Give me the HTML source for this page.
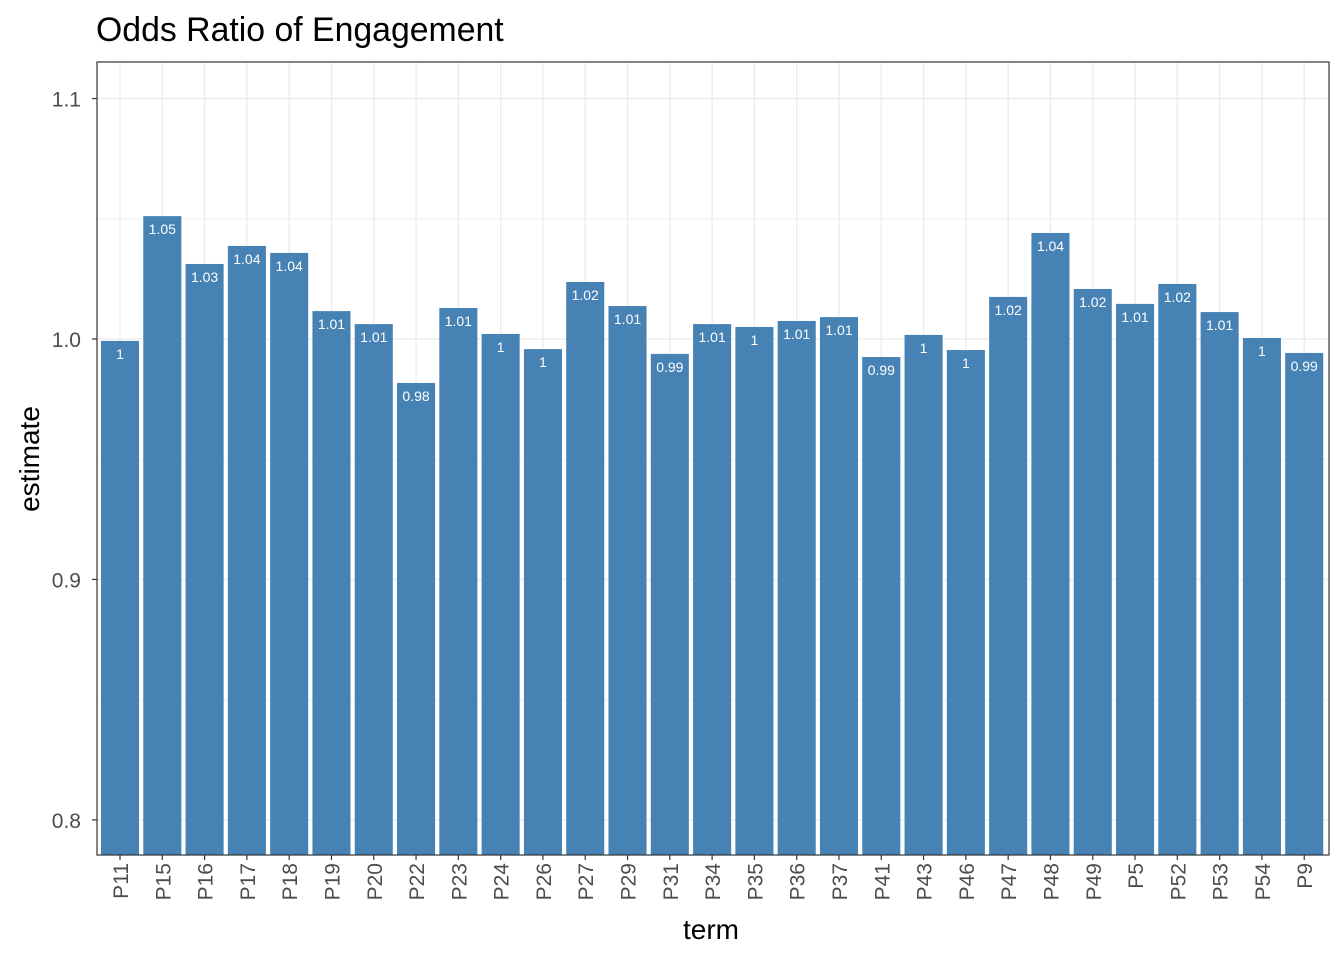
<!DOCTYPE html>
<html><head><meta charset="utf-8"><style>
body{margin:0;background:#fff;}
svg text{font-family:"Liberation Sans",Arial,sans-serif;}
</style></head><body>
<svg id="chart" width="1344" height="960" xmlns="http://www.w3.org/2000/svg">
<rect width="1344" height="960" fill="#fff"/>
<text x="96" y="41" font-size="33.8" fill="#000">Odds Ratio of Engagement</text>
<g id="grid"></g><g id="bars"></g><g id="labels"></g><g id="axes"></g>
<rect x="97" y="62" width="1232" height="793" fill="none" stroke="#333" stroke-width="1.2"/>
<text x="711" y="939" font-size="28" text-anchor="middle" fill="#000">term</text>
<text transform="translate(39,459) rotate(-90)" font-size="28" text-anchor="middle" fill="#000">estimate</text>
</svg>
<script>
const categories=["P11","P15","P16","P17","P18","P19","P20","P22","P23","P24","P26","P27","P29","P31","P34","P35","P36","P37","P41","P43","P46","P47","P48","P49","P5","P52","P53","P54","P9"];
const values=[0.9992,1.0511,1.0312,1.0387,1.0358,1.0116,1.0062,0.9817,1.0129,1.0021,0.9958,1.0237,1.0137,0.9938,1.0062,1.005,1.0075,1.0091,0.9925,1.0017,0.9954,1.0175,1.0441,1.0208,1.0146,1.0229,1.0112,1.0004,0.9942];
const yTicks=[0.8,0.9,1.0,1.1];
const yTickLabels=["0.8","0.9","1.0","1.1"];
const yMinor=[0.85,0.95,1.05];
const NS="http://www.w3.org/2000/svg";
const px0=97,px1=1329,py0=62,py1=855,yMin=0.7854,yMax=1.1152;
const n=categories.length,step=(px1-px0)/(n+0.13);
const xScale=i=>px0+step*(i+0.544);
const yScale=v=>py1-(v-yMin)/(yMax-yMin)*(py1-py0);
function mk(tag,attrs,parent){const e=document.createElementNS(NS,tag);for(const k in attrs)e.setAttribute(k,attrs[k]);document.getElementById(parent).appendChild(e);return e;}
function fmt(v){const r=Math.round(v*100)/100;return String(parseFloat(r.toFixed(2)));}
yMinor.forEach(v=>{const l=mk('line',{x1:px0,x2:px1,y1:yScale(v),y2:yScale(v),stroke:'#f0f0f0','stroke-width':1},'grid');

});
yTicks.forEach((v,i)=>{const y=yScale(v);
const l=mk('line',{x1:px0,x2:px1,y1:y,y2:y,stroke:'#ebebeb','stroke-width':1.3},'grid');


const t=mk('line',{x1:px0-5,x2:px0,y1:y,y2:y,stroke:'#333','stroke-width':1.2},'axes');


const tx=mk('text',{x:px0-16,y:y+8,'font-size':21,'text-anchor':'end',fill:'#4d4d4d'},'axes');tx.textContent=yTickLabels[i];

});
categories.forEach((c,i)=>{const x=xScale(i);
const g=mk('line',{x1:x,x2:x,y1:py0,y2:py1,stroke:'#ebebeb','stroke-width':1.3},'grid');


const bw=step*0.9,top=yScale(values[i]);
const b=mk('rect',{x:x-bw/2,y:top,width:bw,height:py1-top,fill:'#4682b4'},'bars');


const lb=mk('text',{x:x,y:top+18,'font-size':14,'text-anchor':'middle',fill:'#fff'},'labels');lb.textContent=fmt(values[i]);


const t=mk('line',{x1:x,x2:x,y1:py1,y2:py1+5,stroke:'#333','stroke-width':1.2},'axes');


const tx=mk('text',{transform:`translate(${x+8},${py1+8}) rotate(-90)`,'font-size':21,'text-anchor':'end',fill:'#4d4d4d'},'axes');tx.textContent=c;

});
</script>
</body></html>
